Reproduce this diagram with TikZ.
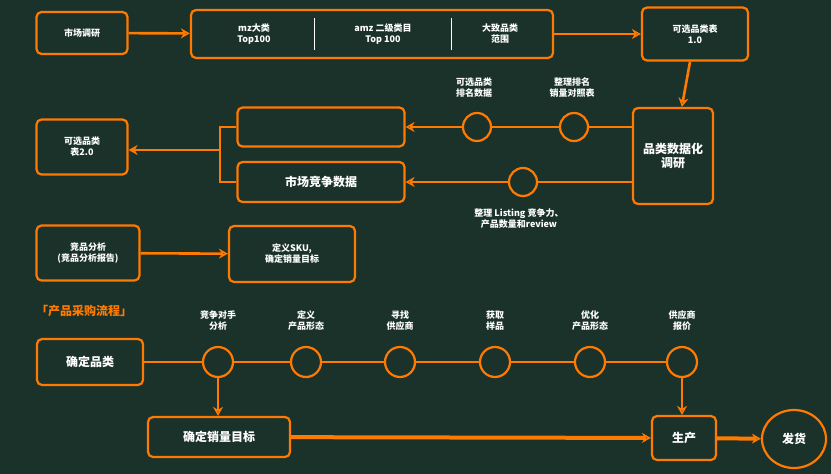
\documentclass[tikz,border=0pt]{standalone}
\usepackage{fontspec}
\setmainfont{Noto Sans CJK SC}
\usetikzlibrary{arrows.meta,positioning,shapes.geometric}
\definecolor{bg}{HTML}{1B322B}
\definecolor{org}{HTML}{FF7A00}
\tikzset{>={Stealth[length=9pt,width=10pt]},
  box/.style={draw=org,line width=2.2pt,rounded corners=5pt,text=white,align=center,font=\bfseries\small,inner sep=2pt},
  dot/.style={draw=org,line width=2.2pt,circle,minimum size=28pt,inner sep=0pt},
  lab/.style={text=white,align=center,font=\bfseries\small},
  link/.style={draw=org,line width=2.6pt}}
\begin{document}
\begin{tikzpicture}[x=1pt,y=-1pt]
    \useasboundingbox[fill=bg] (0,0) rectangle (831,474);
    \node[box,minimum width=91pt,minimum height=42pt] (mr) at (82,33) {市场调研};
    \node[box,minimum width=362pt,minimum height=48pt] (top) at (372,34) {};
    \node[lab] at (254,34) {mz大类\\Top100};
    \node[lab] at (383,34) {amz 二级类目\\Top 100};
    \node[lab] at (500,34) {大致品类\\范围};
    \draw[white,line width=1pt] (314,18) -- (314,50) (451,18) -- (451,50);
    \node[box,minimum width=106pt,minimum height=53pt] (t1) at (695,34) {可选品类表\\1.0};
    \node[box,minimum width=80pt,minimum height=96pt,font=\bfseries\large] (res) at (673,156) {品类数据化\\调研};
    \node[box,minimum width=167pt,minimum height=39pt] (emp) at (321,127) {};
    \node[box,minimum width=167pt,minimum height=40pt,font=\bfseries\large] (comp) at (321,182) {市场竞争数据};
    \node[box,minimum width=91pt,minimum height=55pt] (t2) at (82,147) {可选品类\\表2.0};
    \node[dot] (c1) at (477,127) {};
    \node[dot] (c2) at (574,127) {};
    \node[dot] (c3) at (523,182) {};
    \node[lab] at (474,88) {可选品类\\排名数据};
    \node[lab] at (572,88) {整理排名\\销量对照表};
    \node[lab] at (519,219) {整理 Listing 竞争力、\\产品数量和review};
    \coordinate (br) at (220,150);
    \node[box,minimum width=103pt,minimum height=55pt] (ca) at (88,253) {竞品分析\\(竞品分析报告)};
    \node[box,minimum width=126pt,minimum height=56pt] (sku) at (292,254) {定义SKU,\\确定销量目标};
    \node[text=org,font=\bfseries\large] (ttl) at (84,311) {「产品采购流程」};
    \node[box,minimum width=106pt,minimum height=46pt,font=\bfseries\large] (cat) at (90,362) {确定品类};
    \foreach \x/\t [count=\i] in {218/竞争对手\\分析,306/定义\\产品形态,400/寻找\\供应商,495/获取\\样品,590/优化\\产品形态,682/供应商\\报价}
        {\node[dot,minimum size=30pt] (s\i) at (\x,362) {};
         \node[lab] at (\x,321) {\t};}
    \node[box,minimum width=142pt,minimum height=40pt,font=\bfseries\large] (tgt) at (219,437) {确定销量目标};
    \node[box,minimum width=64pt,minimum height=44pt,font=\bfseries\large] (pro) at (684,438) {生产};
    \node[box,ellipse,rounded corners=0pt,minimum width=64pt,minimum height=58pt,font=\bfseries\large] (shp) at (794,439) {发货};
    \path[link]
        (mr) edge[->] (top)
        (top) edge[->] (t1)
        (t1) edge[->] (res)
        (res.west |- c2) edge (c2)
        (c2) edge (c1)
        (c1) edge[->] (emp)
        (res.west |- c3) edge (c3)
        (c3) edge[->] (comp)
        (ca) edge[->] (sku)
        (cat) edge (s1)
        (s1) edge (s2) (s2) edge (s3) (s3) edge (s4) (s4) edge (s5) (s5) edge (s6)
        (s1) edge[->] (s1 |- tgt.north)
        (s6) edge[->] (s6 |- pro.north)
        (tgt) edge[->,line width=4pt] (pro)
        (pro) edge[->,line width=4pt] (shp);
    \draw[link] (emp.west) -| (br) |- (comp.west);
    \draw[link,->] (br) -- (t2.east |- br);
\end{tikzpicture}
\end{document}
